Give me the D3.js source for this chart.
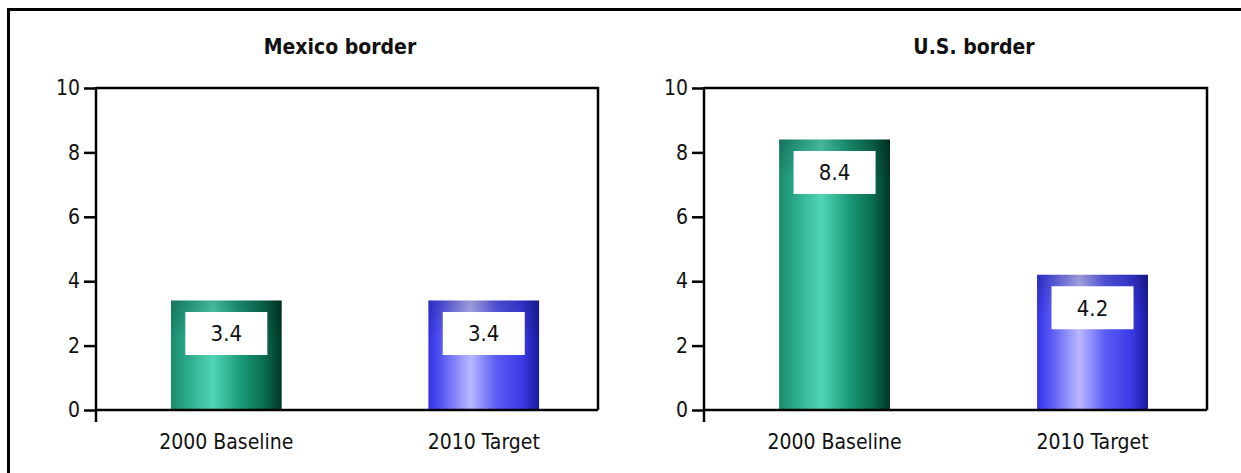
<!DOCTYPE html>
<html>
<head>
<meta charset="utf-8">
<script src="https://cdn.jsdelivr.net/npm/d3@7"></script>
<style>
  html, body { margin: 0; padding: 0; background: #fff; }
  svg { display: block; }
  text { font-family: "DejaVu Sans Condensed", "DejaVu Sans", sans-serif; font-stretch: condensed; fill: #111; }
</style>
</head>
<body>
<svg id="chart" width="1241" height="473"></svg>
<script>
// Chart data
const categories = ["2000 Baseline", "2010 Target"];
const panelTitles = ["Mexico border", "U.S. border"];
const mexicoValues = [3.4, 3.4];
const usValues = [8.4, 4.2];
const yTicks = [0, 2, 4, 6, 8, 10];

const svg = d3.select("#chart");
const W = 1241, H = 473;

// Outer frame
svg.append("rect")
  .attr("x", 8.5).attr("y", 9.5)
  .attr("width", W + 10).attr("height", H + 10)
  .attr("fill", "#fff").attr("stroke", "#000").attr("stroke-width", 3);

// Bar fills: horizontal cylinder shading
const defs = svg.append("defs");
function hGrad(id, stops) {
  const g = defs.append("linearGradient").attr("id", id)
    .attr("x1", 0).attr("x2", 1).attr("y1", 0).attr("y2", 0);
  stops.forEach(([o, c]) => g.append("stop").attr("offset", o).attr("stop-color", c));
}
hGrad("gGreen", [[0, "#1b8c6e"], [0.12, "#27a585"], [0.38, "#52d6b6"], [0.62, "#1c9c7b"], [0.85, "#0a6a4e"], [1, "#003526"]]);
hGrad("gBlue", [[0, "#3232e8"], [0.12, "#5858f4"], [0.38, "#b8b8ff"], [0.62, "#5a5af6"], [0.85, "#3a3ae6"], [1, "#1a1a9c"]]);
const topShade = defs.append("linearGradient").attr("id", "gTop")
  .attr("x1", 0).attr("x2", 0).attr("y1", 0).attr("y2", 1);
topShade.append("stop").attr("offset", 0).attr("stop-color", "#000").attr("stop-opacity", 0.18);
topShade.append("stop").attr("offset", 1).attr("stop-color", "#000").attr("stop-opacity", 0);

const barFills = ["url(#gGreen)", "url(#gBlue)"];

const y = d3.scaleLinear().domain([0, 10]).range([410, 88]);

const panels = [
  { title: panelTitles[0], values: mexicoValues, left: 96, right: 598, titleX: 340 },
  { title: panelTitles[1], values: usValues, left: 704, right: 1207, titleX: 974 }
];

const fontStack = "'DejaVu Sans Condensed', 'DejaVu Sans', sans-serif";

panels.forEach(p => {
  const g = svg.append("g");
  const x = d3.scaleBand().domain(categories).range([p.left, p.right])
    .paddingInner(0.57).paddingOuter(0.26).align(0.56);

  // Title
  g.append("text")
    .attr("x", p.titleX).attr("y", 54)
    .attr("text-anchor", "middle")
    .attr("font-size", 21).attr("font-weight", "bold")
    .text(p.title);

  // Bars
  const bars = g.selectAll(".bar").data(p.values).join("g").attr("class", "bar");
  bars.append("rect")
    .attr("x", (d, i) => x(categories[i]))
    .attr("y", d => y(d))
    .attr("width", x.bandwidth())
    .attr("height", d => y(0) - y(d))
    .attr("fill", (d, i) => barFills[i]);
  bars.append("rect")
    .attr("x", (d, i) => x(categories[i]))
    .attr("y", d => y(d))
    .attr("width", x.bandwidth())
    .attr("height", d => Math.min(40, y(0) - y(d)))
    .attr("fill", "url(#gTop)");

  // Value boxes
  bars.append("rect")
    .attr("x", (d, i) => x(categories[i]) + x.bandwidth() / 2 - 41)
    .attr("y", d => y(d) + 11.5)
    .attr("width", 82).attr("height", 43)
    .attr("fill", "#fff");
  bars.append("text")
    .attr("x", (d, i) => x(categories[i]) + x.bandwidth() / 2)
    .attr("y", d => y(d) + 11.5 + 21.5)
    .attr("dy", "0.36em")
    .attr("text-anchor", "middle")
    .attr("font-size", 22)
    .text(d => d.toFixed(1));

  // Plot frame: top and right edges
  g.append("path")
    .attr("d", `M${p.left},${y(10)}H${p.right}V${y(0)}`)
    .attr("fill", "none").attr("stroke", "#000").attr("stroke-width", 2.5);

  // Y axis
  const yAxis = d3.axisLeft(y).tickValues(yTicks).tickSize(12).tickPadding(4).tickFormat(d3.format("d"));
  const ya = g.append("g").attr("transform", `translate(${p.left},0)`).call(yAxis);
  ya.select(".domain").remove();
  ya.selectAll(".tick line").attr("stroke", "#000").attr("stroke-width", 2.5);
  ya.selectAll(".tick text").attr("font-size", 21).attr("fill", "#111")
    .style("font-family", fontStack);
  g.append("line")
    .attr("x1", p.left).attr("x2", p.left)
    .attr("y1", y(10) - 1).attr("y2", y(0) + 12)
    .attr("stroke", "#000").attr("stroke-width", 2.5);

  // X axis
  const xAxis = d3.axisBottom(x).tickSize(0).tickPadding(24);
  const xa = g.append("g").attr("transform", `translate(0,${y(0)})`).call(xAxis);
  xa.select(".domain").attr("d", `M${p.left},0H${p.right}`)
    .attr("stroke", "#000").attr("stroke-width", 2.5);
  xa.selectAll(".tick text").attr("font-size", 21).attr("fill", "#111")
    .style("font-family", fontStack);
});
</script>
</body>
</html>
